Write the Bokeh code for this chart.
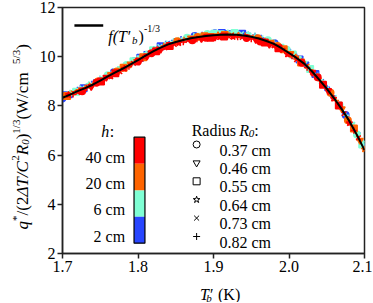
import math
from bokeh.plotting import figure
from bokeh.models import Range1d, FixedTicker, Label, ColumnDataSource
from bokeh.layouts import row, column
from bokeh.core.properties import value
from bokeh.embed import file_html
from bokeh.resources import INLINE

# ---------------- data ----------------
T_fit = [1.70, 1.71, 1.72, 1.73, 1.74, 1.75, 1.76, 1.77, 1.78, 1.79, 1.80,
         1.81, 1.82, 1.83, 1.84, 1.85, 1.86, 1.87, 1.88, 1.89, 1.90,
         1.91, 1.92, 1.93, 1.94, 1.95, 1.96, 1.97, 1.98, 1.99, 2.00,
         2.01, 2.02, 2.03, 2.04, 2.05, 2.06, 2.07, 2.08, 2.09, 2.10]
f_fit = [8.33, 8.46, 8.60, 8.72, 8.86, 9.03, 9.20, 9.36, 9.52, 9.69, 9.86,
         10.04, 10.22, 10.37, 10.50, 10.60, 10.68, 10.75, 10.80, 10.84, 10.87,
         10.89, 10.90, 10.89, 10.86, 10.81, 10.74, 10.64, 10.52, 10.35, 10.15,
         9.95, 9.72, 9.42, 9.07, 8.70, 8.30, 7.86, 7.38, 6.82, 6.20]

# h = 2 cm (blue)
T_h2 = [1.700, 1.712, 1.728, 1.742, 1.760, 1.775, 1.795, 1.812, 1.830, 1.848,
        1.866, 1.885, 1.902, 1.920, 1.938, 1.955, 1.972, 1.990, 2.006, 2.022,
        2.035, 2.050, 2.068, 2.082, 2.098,
        1.705, 1.720, 1.735, 1.750, 1.768, 1.785, 1.803, 1.821, 1.839, 1.857,
        1.875, 1.893, 1.911, 1.929, 1.946, 1.963, 1.981, 1.998, 2.014, 2.028,
        2.043, 2.058, 2.075, 2.090]
q_h2 = [8.30, 8.48, 8.72, 8.95, 9.25, 9.48, 9.82, 10.12, 10.42, 10.62,
        10.78, 10.88, 10.95, 10.97, 10.93, 10.83, 10.66, 10.38, 10.06, 9.70,
        9.30, 8.72, 7.98, 7.26, 6.38,
        8.43, 8.64, 8.83, 9.07, 9.37, 9.65, 9.96, 10.28, 10.54, 10.71,
        10.84, 10.92, 10.96, 10.95, 10.88, 10.76, 10.55, 10.22, 9.89, 9.51,
        8.99, 8.40, 7.63, 6.83]
R_h2 = [0.37, 0.46, 0.55, 0.64, 0.73, 0.82, 0.37, 0.46, 0.55, 0.64,
        0.73, 0.82, 0.37, 0.46, 0.55, 0.64, 0.73, 0.82, 0.37, 0.46,
        0.55, 0.64, 0.73, 0.82, 0.46,
        0.55, 0.64, 0.73, 0.82, 0.37, 0.46, 0.55, 0.64, 0.73, 0.82,
        0.37, 0.46, 0.55, 0.64, 0.73, 0.82, 0.37, 0.46, 0.55, 0.64,
        0.73, 0.82, 0.37, 0.46]

# h = 6 cm (aquamarine)
T_h6 = [1.703, 1.718, 1.735, 1.752, 1.768, 1.785, 1.803, 1.820, 1.838, 1.856,
        1.874, 1.892, 1.910, 1.928, 1.946, 1.963, 1.980, 1.997, 2.012, 2.028,
        2.044, 2.060, 2.075, 2.090,
        1.710, 1.726, 1.743, 1.760, 1.777, 1.794, 1.811, 1.829, 1.847, 1.865,
        1.883, 1.901, 1.919, 1.937, 1.955, 1.972, 1.989, 2.005, 2.020, 2.036,
        2.052, 2.067, 2.083, 2.097]
q_h6 = [8.42, 8.58, 8.86, 9.14, 9.40, 9.66, 9.95, 10.26, 10.52, 10.70,
        10.84, 10.92, 10.97, 10.96, 10.90, 10.77, 10.58, 10.28, 9.92, 9.50,
        8.95, 8.34, 7.62, 6.84,
        8.51, 8.72, 8.96, 9.25, 9.52, 9.81, 10.11, 10.41, 10.62, 10.77,
        10.87, 10.93, 10.96, 10.93, 10.84, 10.67, 10.42, 10.09, 9.76, 9.25,
        8.66, 8.03, 7.25, 6.43]
R_h6 = [0.46, 0.55, 0.64, 0.73, 0.82, 0.37, 0.46, 0.55, 0.64, 0.73,
        0.82, 0.37, 0.46, 0.55, 0.64, 0.73, 0.82, 0.37, 0.46, 0.55,
        0.64, 0.73, 0.82, 0.37,
        0.64, 0.73, 0.82, 0.37, 0.46, 0.55, 0.64, 0.73, 0.82, 0.37,
        0.46, 0.55, 0.64, 0.73, 0.82, 0.37, 0.46, 0.55, 0.64, 0.73,
        0.82, 0.37, 0.46, 0.55]

# h = 20 cm (orange)
T_h20 = [1.706, 1.722, 1.738, 1.755, 1.772, 1.790, 1.807, 1.825, 1.843, 1.861,
         1.879, 1.897, 1.915, 1.933, 1.950, 1.968, 1.985, 2.002, 2.016, 2.031,
         2.047, 2.062, 2.078, 2.094,
         1.714, 1.730, 1.747, 1.764, 1.781, 1.798, 1.816, 1.834, 1.852, 1.870,
         1.888, 1.906, 1.924, 1.942, 1.959, 1.976, 1.993, 2.009, 2.024, 2.039,
         2.055, 2.070, 2.086, 2.100]
q_h20 = [8.40, 8.62, 8.85, 9.12, 9.40, 9.70, 9.98, 10.28, 10.50, 10.68,
         10.80, 10.86, 10.88, 10.86, 10.80, 10.64, 10.44, 10.12, 9.76, 9.36,
         8.86, 8.22, 7.42, 6.60,
         8.53, 8.73, 8.99, 9.27, 9.55, 9.84, 10.16, 10.43, 10.63, 10.76,
         10.83, 10.88, 10.89, 10.85, 10.75, 10.58, 10.30, 9.98, 9.62, 9.12,
         8.53, 7.88, 7.08, 6.24]
R_h20 = [0.55, 0.64, 0.73, 0.82, 0.37, 0.46, 0.55, 0.64, 0.73, 0.82,
         0.37, 0.46, 0.55, 0.64, 0.73, 0.82, 0.37, 0.46, 0.55, 0.64,
         0.73, 0.82, 0.37, 0.46,
         0.73, 0.82, 0.37, 0.46, 0.55, 0.64, 0.73, 0.82, 0.37, 0.46,
         0.55, 0.64, 0.73, 0.82, 0.37, 0.46, 0.55, 0.64, 0.73, 0.82,
         0.37, 0.46, 0.55, 0.64]

# h = 40 cm (red)
T_h40 = [1.708, 1.720, 1.732, 1.745, 1.758, 1.770, 1.782, 1.794, 1.806, 1.818,
         1.830, 1.842, 1.854, 1.866, 1.878, 1.890, 1.902, 1.914, 1.926, 1.938,
         1.950, 1.962, 1.974, 1.986, 1.998, 2.010, 2.024, 2.038, 2.052, 2.066,
         2.080, 2.092,
         1.714, 1.726, 1.738, 1.751, 1.764, 1.776, 1.788, 1.800, 1.812, 1.824,
         1.836, 1.848, 1.860, 1.872, 1.884, 1.896, 1.908, 1.920, 1.932, 1.944,
         1.956, 1.968, 1.980, 1.992, 2.004, 2.017, 2.031, 2.045, 2.059, 2.073,
         2.086]
q_h40 = [8.45, 8.55, 8.74, 8.94, 9.16, 9.33, 9.52, 9.73, 9.93, 10.14,
         10.30, 10.44, 10.56, 10.66, 10.72, 10.77, 10.80, 10.82, 10.81, 10.78,
         10.72, 10.62, 10.50, 10.34, 10.10, 9.88, 9.56, 9.16, 8.62, 8.02,
         7.30, 6.70,
         8.47, 8.60, 8.78, 8.99, 9.20, 9.39, 9.60, 9.80, 10.02, 10.22,
         10.38, 10.50, 10.60, 10.67, 10.73, 10.77, 10.80, 10.82, 10.80, 10.76,
         10.69, 10.58, 10.46, 10.26, 10.03, 9.75, 9.36, 8.86, 8.30, 7.68,
         7.00]
R_h40 = [0.64, 0.73, 0.82, 0.37, 0.46, 0.55, 0.64, 0.73, 0.82, 0.37,
         0.46, 0.55, 0.64, 0.73, 0.82, 0.37, 0.46, 0.55, 0.64, 0.73,
         0.82, 0.37, 0.46, 0.55, 0.64, 0.73, 0.82, 0.37, 0.46, 0.55,
         0.64, 0.73,
         0.82, 0.37, 0.46, 0.55, 0.64, 0.73, 0.82, 0.37, 0.46, 0.55,
         0.64, 0.73, 0.82, 0.37, 0.46, 0.55, 0.64, 0.73, 0.82, 0.37,
         0.46, 0.55, 0.64, 0.73, 0.82, 0.37, 0.46, 0.55, 0.64, 0.73,
         0.82]

h_labels = ["40 cm", "20 cm", "6 cm", "2 cm"]
h_colors = ["#FF0000", "#FF6400", "#7FFFD4", "#2846FF"]
radii = [0.37, 0.46, 0.55, 0.64, 0.73, 0.82]
radius_labels = ["0.37 cm", "0.46 cm", "0.55 cm", "0.64 cm", "0.73 cm", "0.82 cm"]
radius_markers = ["circle", "inverted_triangle", "square", "star", "x", "cross"]

x_ticks = [1.7, 1.8, 1.9, 2.0, 2.1]
y_ticks = [2, 4, 6, 8, 10, 12]

# ---------------- layout geometry (page px) ----------------
FONT = "Liberation Serif"
TOTAL_W, TOTAL_H = 372, 302
YL_W = 36            # strip holding the rotated y label
XL_H = 24            # strip holding the x label
MAIN_W, MAIN_H = TOTAL_W - YL_W, TOTAL_H - XL_H
FL, FR, FT, FB = 60, 364, 7, 253   # frame edges in page px

p = figure(width=MAIN_W, height=MAIN_H, x_range=Range1d(1.7, 2.1), y_range=Range1d(2, 12),
           output_backend="svg", toolbar_location=None,
           min_border_left=FL - YL_W, min_border_right=TOTAL_W - FR,
           min_border_top=FT, min_border_bottom=MAIN_H - FB)
p.xgrid.visible = False
p.ygrid.visible = False
p.outline_line_color = "#222222"
p.outline_line_width = 1.5
p.outline_line_alpha = 1.0

for ax in (p.xaxis[0], p.yaxis[0]):
    ax.axis_line_width = 1.5
    ax.axis_line_color = "#222222"
    ax.major_tick_line_width = 1.5
    ax.major_tick_line_color = "#222222"
    ax.major_tick_in = 0
    ax.major_tick_out = 5
    ax.minor_tick_line_color = None
    ax.major_label_text_font = FONT
    ax.major_label_text_font_size = "16px"
    ax.major_label_text_color = "black"
p.xaxis.ticker = FixedTicker(ticks=x_ticks)
p.xaxis.major_label_overrides = {t: f"{t:.1f}" for t in x_ticks}
p.xaxis.major_label_standoff = 2
p.yaxis.ticker = FixedTicker(ticks=y_ticks)
p.yaxis.major_label_overrides = {t: str(t) for t in y_ticks}
p.yaxis.major_label_standoff = 2

# page px -> data (for decorations inside the frame)
def rx(px):
    return 1.7 + (px - FL) / (FR - FL) * 0.4

def ry(py):
    return 2 + (FB - py) / (FB - FT) * 10

def lab(text, x, y, size=16, style="normal", align="left"):
    p.add_layout(Label(x=rx(x), y=ry(y), text=text, text_font=FONT,
                       text_font_size=f"{size}px", text_font_style=style,
                       text_align=align, text_baseline="alphabetic",
                       text_color="black"))

# ---------------- data points ----------------
mk = dict(zip(radii, radius_markers))
series = [(T_h2, q_h2, R_h2, h_colors[3]),
          (T_h6, q_h6, R_h6, h_colors[2]),
          (T_h20, q_h20, R_h20, h_colors[1]),
          (T_h40, q_h40, R_h40, h_colors[0])]
for T, q, R, col in series:
    src = ColumnDataSource(dict(x=T, y=q, m=[mk[r] for r in R]))
    p.scatter("x", "y", marker="m", source=src, size=6.5,
              fill_color=col, line_color=col, line_width=1.5)

p.line(T_fit, f_fit, line_color="black", line_width=2)

# ---------------- fit legend ----------------
p.segment(x0=[rx(72)], y0=[ry(25)], x1=[rx(101)], y1=[ry(25)],
          line_color="black", line_width=2.5)
lab("f(T\u2032", 106, 36, 16, "italic")
lab("b", 130, 39, 11, "italic")
lab(")", 136.5, 36, 16)
lab("-1/3", 142, 28, 10)

# ---------------- h colour legend ----------------
lab("h", 99, 131, 16, "italic")
lab(":", 107.5, 131, 16)
edges = [136.7, 163.3, 190.0, 216.3, 242.7]
p.quad(left=[rx(132)] * 4, right=[rx(143)] * 4,
       top=[ry(e) for e in edges[:-1]], bottom=[ry(e) for e in edges[1:]],
       fill_color=h_colors, line_color=None)
p.quad(left=[rx(132)], right=[rx(143)], top=[ry(edges[0])], bottom=[ry(edges[-1])],
       fill_color=None, line_color="black", line_width=1.2)
for i, t in enumerate(h_labels):
    lab(t, 123, [157, 183, 209, 235.5][i], 16, align="right")

# ---------------- radius legend ----------------
lab("Radius", 190, 130, 16)
lab("R", 238, 130, 16, "italic")
lab("0", 247.5, 133, 11, "italic")
lab(":", 253, 130, 16)
p.scatter([rx(195)] * 6, [ry(144 + i * 18.4) for i in range(6)],
          marker=radius_markers, size=7, fill_color=None,
          line_color="black", line_width=1)
for i, t in enumerate(radius_labels):
    lab(t, 218, 149.5 + i * 18.4, 16)

# ---------------- strip figures for the axis titles ----------------
def strip(w, h):
    f = figure(width=w, height=h, x_range=Range1d(0, w), y_range=Range1d(0, h),
               output_backend="svg", toolbar_location=None,
               x_axis_location=None, y_axis_location=None,
               min_border=0, min_border_left=0, min_border_right=0,
               min_border_top=0, min_border_bottom=0)
    f.xgrid.visible = False
    f.ygrid.visible = False
    f.outline_line_color = None
    return f

# x label strip (page x offset YL_W, page y offset MAIN_H)
px_ = strip(MAIN_W, XL_H)
def xl_text(txt, x, y, size, style):
    px_.text(x=[x - YL_W], y=[TOTAL_H - y], text=[txt], text_font=value(FONT),
             text_font_size=f"{size}px", text_font_style=style,
             text_align="left", text_baseline="alphabetic", text_color="black")
xl_text("T\u2032", 189, 294, 16, "italic")
xl_text("b", 196, 297, 11, "italic")
xl_text("(K)", 209, 294, 16, "normal")

# y label strip (page offset 0, 0)
py_ = strip(YL_W, TOTAL_H)
WID = {"q": 0.5, "*": 0.5, "/": 0.278, "(": 0.333, ")": 0.333, "2": 0.5,
       "\u0394": 0.612, "T": 0.556, "C": 0.667, "R": 0.611, "0": 0.5, "1": 0.5,
       "3": 0.5, "5": 0.5, " ": 0.25, "W": 0.944, "c": 0.444, "m": 0.778}
pieces = [("q", 17, "italic", 0), ("*", 11, "normal", 1), ("/(2", 17, "normal", 0),
          ("\u0394T/C", 17, "italic", 0), ("2", 11, "normal", 1),
          ("R", 17, "italic", 0), ("0", 11, "italic", -1), (")", 17, "normal", 0),
          ("1/3", 11, "normal", 1), ("  (W/cm", 17, "normal", 0),
          ("5/3", 11, "normal", 1), (")", 17, "normal", 0)]
base_x = {0: 22, 1: 15, -1: 25}
cur = 229.0
for txt, sz, st, sh in pieces:
    py_.text(x=[base_x[sh]], y=[TOTAL_H - cur], text=[txt], text_font=value(FONT),
             text_font_size=f"{sz}px", text_font_style=st, angle=math.pi / 2,
             text_align="left", text_baseline="alphabetic", text_color="black")
    cur -= sum(WID.get(ch, 0.5) for ch in txt) * sz

layout = row(py_, column(p, px_, spacing=0), spacing=0)
open("out.html", "w").write(file_html(layout, INLINE))
